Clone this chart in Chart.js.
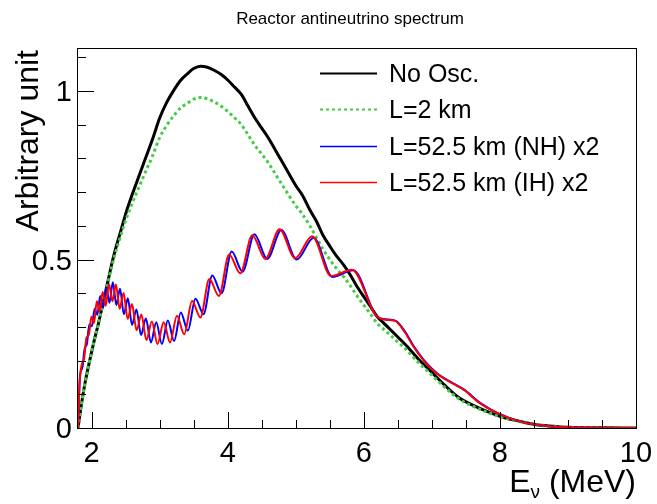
<!DOCTYPE html>
<html>
<head>
<meta charset="utf-8">
<title>Reactor antineutrino spectrum</title>
<script src="https://cdn.jsdelivr.net/npm/chart.js@4.4.0/dist/chart.umd.min.js"></script>
<style>
  html, body { margin: 0; padding: 0; background: #fff; }
</style>
</head>
<body>
<canvas id="spectrumChart" width="657" height="504"></canvas>
<script>
// values, E in MeV, y in arbitrary units
const noOscE = [1.80, 1.85, 1.90, 1.95, 2.00, 2.05, 2.10, 2.15, 2.20, 2.25, 2.30, 2.35, 2.40, 2.45, 2.50,
  2.60, 2.70, 2.80, 2.90, 3.00, 3.10, 3.20, 3.30, 3.40, 3.50, 3.60, 3.70, 3.80, 3.90, 4.00,
  4.10, 4.20, 4.30, 4.40, 4.50, 4.60, 4.70, 4.80, 4.90, 5.00, 5.10, 5.20, 5.30, 5.40, 5.50,
  5.60, 5.70, 5.80, 5.90, 6.00, 6.10, 6.20, 6.30, 6.40, 6.50, 6.60, 6.80, 7.00, 7.20, 7.40,
  7.60, 7.80, 8.00, 8.20, 8.40, 8.60, 8.80, 9.00, 9.50, 10.0];
const noOscV = [0.0, 0.07, 0.13, 0.18, 0.225, 0.27, 0.31, 0.355, 0.40, 0.445, 0.49, 0.53, 0.565, 0.60, 0.635,
  0.695, 0.75, 0.805, 0.86, 0.92, 0.965, 1.00, 1.03, 1.05, 1.067, 1.074, 1.071, 1.062, 1.05, 1.033,
  1.012, 0.99, 0.955, 0.92, 0.89, 0.86, 0.825, 0.79, 0.755, 0.72, 0.69, 0.65, 0.615, 0.572, 0.54,
  0.51, 0.485, 0.455, 0.42, 0.39, 0.36, 0.33, 0.31, 0.29, 0.27, 0.25, 0.205, 0.165, 0.125, 0.09,
  0.068, 0.05, 0.035, 0.024, 0.015, 0.008, 0.005, 0.002, 0.0005, 0.0];
// L = 2 km, same energy grid
const nearV = [0.0, 0.07, 0.13, 0.18, 0.225, 0.27, 0.309, 0.353, 0.396, 0.44, 0.483, 0.52, 0.553, 0.585, 0.616,
  0.669, 0.717, 0.764, 0.81, 0.862, 0.897, 0.925, 0.949, 0.963, 0.976, 0.981, 0.977, 0.968, 0.956, 0.94,
  0.921, 0.901, 0.87, 0.839, 0.813, 0.786, 0.754, 0.722, 0.69, 0.66, 0.634, 0.603, 0.567, 0.531, 0.50,
  0.473, 0.45, 0.423, 0.392, 0.365, 0.338, 0.31, 0.292, 0.274, 0.255, 0.237, 0.195, 0.157, 0.119, 0.086,
  0.065, 0.048, 0.033, 0.023, 0.014, 0.0075, 0.0047, 0.0019, 0.0005, 0.0];

// L = 52.5 km, normal hierarchy (x2): wiggle tops and bottoms, then the tail
const nhE = [1.80, 1.8304, 1.8629, 1.8964, 1.9312, 1.9673, 2.0048, 2.0436, 2.084, 2.126, 2.1697, 2.2152,
  2.2627, 2.312, 2.3635, 2.4174, 2.4737, 2.5325, 2.5939, 2.6584, 2.726, 2.797, 2.8714, 2.9498,
  3.0325, 3.1199, 3.2121, 3.3102, 3.4145, 3.5256, 3.6449, 3.7724, 3.9098, 4.058, 4.2185, 4.392,
  4.581, 4.7875, 5.0137, 5.2632, 5.5386, 5.8451, 6.1874, 6.31, 6.47, 6.61, 6.74, 6.89, 7.08, 7.23,
  7.48, 7.72, 7.97, 8.30, 8.69, 9.00, 9.50, 10.0];
const nhV = [0.0, 0.157, 0.178, 0.234, 0.250, 0.308, 0.302, 0.354, 0.336, 0.392, 0.357, 0.417,
  0.372, 0.433, 0.365, 0.413, 0.338, 0.385, 0.306, 0.352, 0.276, 0.325, 0.254, 0.314,
  0.249, 0.319, 0.258, 0.343, 0.289, 0.384, 0.338, 0.453, 0.400, 0.524, 0.464, 0.575,
  0.502, 0.588, 0.500, 0.565, 0.448, 0.468, 0.332, 0.323, 0.318, 0.285, 0.241, 0.20, 0.162, 0.142,
  0.113, 0.073, 0.044, 0.019, 0.006, 0.002, 0.0005, 0.0];

// L = 52.5 km, inverted hierarchy (x2)
const ihE = [1.80, 1.823, 1.856, 1.889, 1.9235, 1.9596, 1.9969, 2.0356, 2.0761, 2.1181, 2.162, 2.2076,
  2.2552, 2.3052, 2.3574, 2.4121, 2.4695, 2.5297, 2.5932, 2.6602, 2.7308, 2.8055, 2.8847, 2.9686,
  3.0578, 3.1526, 3.2537, 3.3611, 3.4761, 3.5985, 3.7299, 3.8703, 4.0217, 4.1843, 4.3609, 4.553,
  4.7614, 4.9902, 5.2409, 5.5186, 5.8265, 6.17, 6.30, 6.46, 6.60, 6.73, 6.88, 7.07, 7.22,
  7.47, 7.71, 7.96, 8.30, 8.69, 9.00, 9.50, 10.0];
const ihV = [0.0, 0.132, 0.189, 0.205, 0.267, 0.277, 0.330, 0.311, 0.376, 0.346, 0.404, 0.363,
  0.427, 0.376, 0.426, 0.354, 0.401, 0.324, 0.368, 0.290, 0.337, 0.261, 0.316, 0.249,
  0.314, 0.254, 0.333, 0.278, 0.377, 0.328, 0.442, 0.392, 0.515, 0.459, 0.572, 0.502,
  0.590, 0.504, 0.569, 0.451, 0.470, 0.336, 0.322, 0.318, 0.285, 0.241, 0.20, 0.162, 0.142,
  0.113, 0.073, 0.044, 0.019, 0.006, 0.002, 0.0005, 0.0];

const seriesNames = ['No Osc.', 'L=2 km', 'L=52.5 km (NH) x2', 'L=52.5 km (IH) x2'];

const xMajorTicks = [2, 4, 6, 8, 10];
const xTickLabels = ['2', '4', '6', '8', '10'];
const xMinorTicks = [2.5, 3, 3.5, 4.5, 5, 5.5, 6.5, 7, 7.5, 8.5, 9, 9.5];
const yMajorTicks = [0, 0.5, 1];
const yTickLabels = ['0', '0.5', '1'];
const yMinorTicks = [0.1, 0.2, 0.3, 0.4, 0.6, 0.7, 0.8, 0.9, 1.1];

const FONT = '"Liberation Sans", Arial, Helvetica, sans-serif';

const toPoints = (xs, ys) => xs.map((x, i) => ({ x: x, y: ys[i] }));

// ROOT-like frame: inward ticks, labels, axis titles, legend, title
const rootFrame = {
  id: 'rootFrame',
  afterDraw(chart) {
    const ctx = chart.ctx;
    const a = chart.chartArea;
    const xs = chart.scales.x;
    const ys = chart.scales.y;
    ctx.save();

    ctx.strokeStyle = '#000';
    ctx.lineWidth = 1;
    ctx.strokeRect(Math.round(a.left) - 0.5, Math.round(a.top) - 0.5,
      Math.round(a.right - a.left) + 1, Math.round(a.bottom - a.top) + 1);

    ctx.beginPath();
    xMajorTicks.forEach(v => {
      const px = Math.round(xs.getPixelForValue(v)) + 0.5;
      ctx.moveTo(px, a.bottom); ctx.lineTo(px, a.bottom - 16);
    });
    xMinorTicks.forEach(v => {
      const px = Math.round(xs.getPixelForValue(v)) + 0.5;
      ctx.moveTo(px, a.bottom); ctx.lineTo(px, a.bottom - 8);
    });
    yMajorTicks.forEach(v => {
      const py = Math.round(ys.getPixelForValue(v)) + 0.5;
      ctx.moveTo(a.left, py); ctx.lineTo(a.left + 16, py);
    });
    yMinorTicks.forEach(v => {
      const py = Math.round(ys.getPixelForValue(v)) + 0.5;
      ctx.moveTo(a.left, py); ctx.lineTo(a.left + 8, py);
    });
    ctx.stroke();

    ctx.fillStyle = '#000';
    ctx.font = '29px ' + FONT;
    ctx.textBaseline = 'alphabetic';
    ctx.textAlign = 'center';
    xMajorTicks.forEach((v, i) => {
      ctx.fillText(xTickLabels[i], xs.getPixelForValue(v), a.bottom + 34);
    });
    ctx.textAlign = 'right';
    yMajorTicks.forEach((v, i) => {
      ctx.fillText(yTickLabels[i], a.left - 6, ys.getPixelForValue(v) + 10);
    });

    // y title, rotated, flush with the top of the frame
    ctx.font = '32px ' + FONT;
    ctx.save();
    ctx.translate(38, a.top + 1);
    ctx.rotate(-Math.PI / 2);
    ctx.textAlign = 'right';
    ctx.fillText('Arbitrary unit', 0, 0);
    ctx.restore();

    // x title with subscript nu, flush with the right of the frame
    const big = '32px ' + FONT;
    const small = '19px ' + FONT;
    ctx.font = big;
    const wE = ctx.measureText('E').width;
    const wTail = ctx.measureText(' (MeV)').width;
    ctx.font = small;
    const wNu = ctx.measureText('\u03bd').width;
    let tx = a.right - (wE + wNu + wTail);
    const base = 492;
    ctx.textAlign = 'left';
    ctx.font = big;
    ctx.fillText('E', tx, base);
    tx += wE;
    ctx.font = small;
    ctx.fillText('\u03bd', tx, base + 6);
    tx += wNu;
    ctx.font = big;
    ctx.fillText(' (MeV)', tx, base);

    // title
    ctx.font = '17px ' + FONT;
    ctx.textAlign = 'center';
    ctx.fillText('Reactor antineutrino spectrum', 350, 24);

    // legend
    const rows = [72.7, 109.3, 145.7, 181.7];
    const legendOrder = [0, 1, 2, 3];
    ctx.font = '25px ' + FONT;
    ctx.textAlign = 'left';
    legendOrder.forEach((di, r) => {
      const ds = chart.data.datasets[di];
      const yy = Math.round(rows[r]) + 0.5;
      ctx.save();
      ctx.strokeStyle = ds.borderColor;
      ctx.lineWidth = di === 0 ? 2 : (di === 1 ? 2 : 1.5);
      ctx.setLineDash(ds.borderDash || []);
      ctx.beginPath();
      ctx.moveTo(320, yy); ctx.lineTo(377, yy);
      ctx.stroke();
      ctx.restore();
      ctx.fillText(ds.label, 389, rows[r] + 9);
    });

    ctx.restore();
  }
};

const ctx = document.getElementById('spectrumChart').getContext('2d');
new Chart(ctx, {
  type: 'line',
  data: {
    datasets: [{
      label: seriesNames[0],
      data: toPoints(noOscE, noOscV),
      borderColor: '#000000',
      borderWidth: 3,
      order: 4
    }, {
      label: seriesNames[1],
      data: toPoints(noOscE, nearV),
      borderColor: '#44cc44',
      borderWidth: 3,
      borderDash: [3, 3],
      order: 3
    }, {
      label: seriesNames[2],
      data: toPoints(nhE, nhV),
      borderColor: '#0000ff',
      borderWidth: 2,
      order: 2
    }, {
      label: seriesNames[3],
      data: toPoints(ihE, ihV),
      borderColor: '#ff0000',
      borderWidth: 2,
      order: 1
    }]
  },
  options: {
    responsive: false,
    animation: false,
    devicePixelRatio: 1,
    layout: { padding: { left: 78, right: 21, top: 49, bottom: 76 } },
    elements: {
      point: { radius: 0 },
      line: { cubicInterpolationMode: 'monotone', fill: false }
    },
    plugins: {
      legend: { display: false },
      title: { display: false },
      tooltip: { enabled: false }
    },
    scales: {
      x: { type: 'linear', min: 1.8, max: 10, display: false },
      y: { type: 'linear', min: 0, max: 1.125, display: false }
    }
  },
  plugins: [rootFrame]
});
</script>
</body>
</html>
